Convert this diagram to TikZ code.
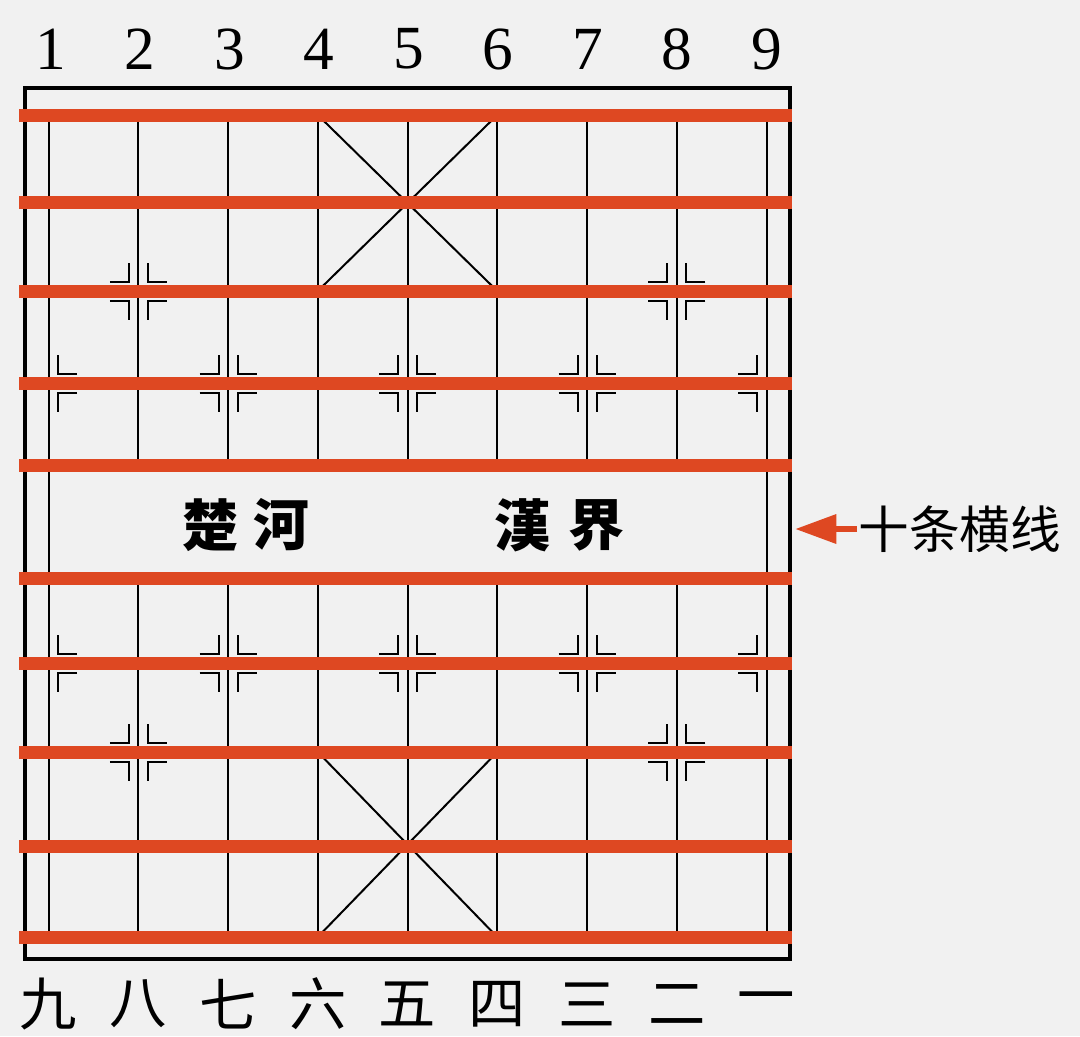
\documentclass[tikz,border=0pt]{standalone}
\usepackage{fontspec}
\newfontfamily\cjk{Noto Sans CJK SC}
\newfontfamily\digitfont{Liberation Serif}
\usetikzlibrary{arrows.meta}
\definecolor{redline}{RGB}{222,72,34}
\definecolor{bgc}{RGB}{241,241,241}
\newcommand\mkleft[2]{%
  \draw[marker] ({#1-28.5},{#2-9.5}) -- ({#1-9.5},{#2-9.5}) -- ({#1-9.5},{#2-28.5});
  \draw[marker] ({#1-28.5},{#2+9.5}) -- ({#1-9.5},{#2+9.5}) -- ({#1-9.5},{#2+28.5});}
\newcommand\mkright[2]{%
  \draw[marker] ({#1+28.5},{#2-9.5}) -- ({#1+9.5},{#2-9.5}) -- ({#1+9.5},{#2-28.5});
  \draw[marker] ({#1+28.5},{#2+9.5}) -- ({#1+9.5},{#2+9.5}) -- ({#1+9.5},{#2+28.5});}
\begin{document}
\begin{tikzpicture}[x=0.75pt,y=-0.75pt,
  redbar/.style={draw=redline,line width=9.75pt},
  gridline/.style={draw=black,line width=1.5pt},
  border/.style={draw=black,line width=2.4pt},
  marker/.style={draw=black,line width=1.5pt},
  toplabel/.style={font=\digitfont\fontsize{46}{48}\selectfont,inner sep=0pt},
  botlabel/.style={font=\cjk\fontsize{43}{45}\selectfont,inner sep=0pt},
  river/.style={font=\cjk\bfseries\fontsize{42}{44}\selectfont,inner sep=0pt},
  note/.style={font=\cjk\fontsize{38}{40}\selectfont,inner sep=1pt,anchor=west},
  pointer/.style={draw=redline,line width=5pt,-{Triangle[length=31pt,width=21pt]}}
]
\fill[bgc] (0,0) rectangle (1080,1036);
\useasboundingbox (0,0) rectangle (1080,1036);
% vertical lines
\foreach \i in {2,...,8} {
  \pgfmathsetmacro\xx{48.5+89.75*(\i-1)}
  \draw[gridline] (\xx,115) -- (\xx,465);
  \draw[gridline] (\xx,578) -- (\xx,937);
}
\draw[gridline] (48.5,115) -- (48.5,937);
\draw[gridline] (766.5,115) -- (766.5,937);
% palaces
\draw[gridline] (317.75,115) -- (497.25,291);
\draw[gridline] (497.25,115) -- (317.75,291);
\draw[gridline] (317.75,752) -- (497.25,937);
\draw[gridline] (497.25,752) -- (317.75,937);
% markers
\foreach \yy in {291,752} {
  \foreach \xx in {138.25,676.75} { \mkleft{\xx}{\yy} \mkright{\xx}{\yy} }
}
\foreach \yy in {383,663} {
  \mkright{48.5}{\yy}
  \foreach \xx in {228,407.5,587} { \mkleft{\xx}{\yy} \mkright{\xx}{\yy} }
  \mkleft{766.5}{\yy}
}
% border
\draw[border] (25,88) rectangle (790,959);
% red lines
\foreach \r in {115,202,291,383,465,578,663,752,846,937}
  \draw[redbar] (19,\r) -- (792,\r);
% labels
\foreach \n [count=\i] in {1,...,9}
  \node[toplabel] (top\i) at ({50.5+89.5*(\i-1)},49) {\n};
\foreach \c [count=\i] in {九,八,七,六,五,四,三,二,一}
  \node[botlabel] (bot\i) at ({48.5+89.75*(\i-1)},1004) {\c};
\node[river] (chu) at (210,525) {楚};
\node[river] (he) at (281,525) {河};
\node[river] (han) at (522,525) {漢};
\node[river] (jie) at (596,525) {界};
\node[note] (lbl) at (857,529) {十条横线};
\coordinate (tip) at (795,529);
\draw[pointer] (lbl.west) -- (tip);
\end{tikzpicture}
\end{document}
